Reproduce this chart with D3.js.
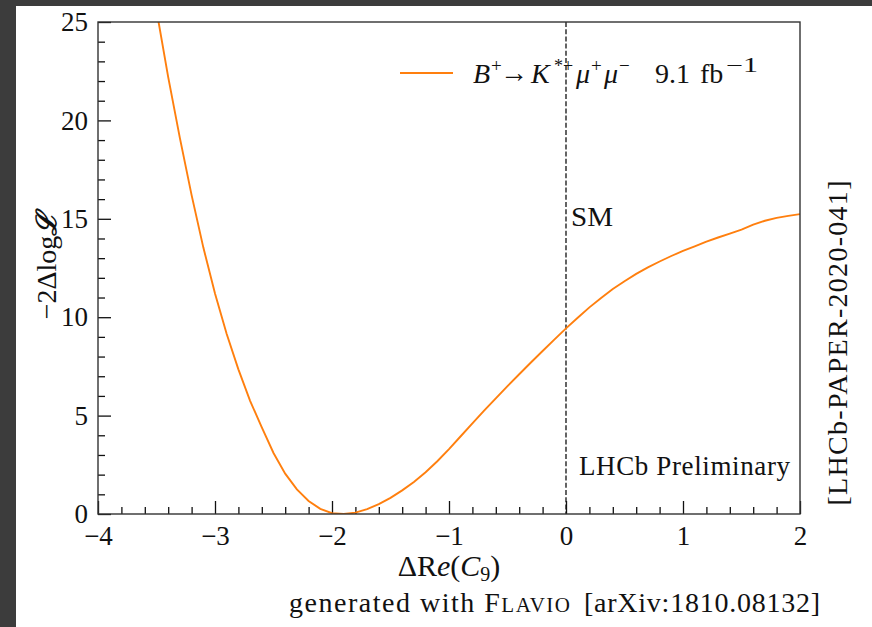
<!DOCTYPE html>
<html>
<head>
<meta charset="utf-8">
<script src="https://cdn.jsdelivr.net/npm/d3@7"></script>
<style>
  html, body { margin: 0; padding: 0; background: #3c3c3c; }
  svg { display: block; }
  text { font-family: "Liberation Serif", "DejaVu Serif", serif; fill: #111; }
</style>
</head>
<body>
<svg id="chart" width="872" height="627"></svg>
<script>
// Profile likelihood scan of the C9 Wilson coefficient shift
const c9Shift = [-3.5, -3.4, -3.3, -3.2, -3.1, -3.0, -2.9, -2.8, -2.7, -2.6, -2.5, -2.4, -2.3, -2.2, -2.1,
  -2.0, -1.9, -1.8, -1.7, -1.6, -1.5, -1.4, -1.3, -1.2, -1.1, -1.0, -0.9, -0.8, -0.7, -0.6, -0.5,
  -0.4, -0.3, -0.2, -0.1, 0.0, 0.1, 0.2, 0.3, 0.4, 0.5, 0.6, 0.7, 0.8, 0.9, 1.0, 1.1, 1.2, 1.3,
  1.4, 1.5, 1.6, 1.7, 1.8, 1.9, 2.0];
const deltaLogL = [25.6, 22.2, 19.1, 16.2, 13.55, 11.2, 9.15, 7.35, 5.75, 4.4, 3.1, 2.05, 1.25, 0.66, 0.26,
  0.04, 0.0, 0.07, 0.25, 0.5, 0.82, 1.2, 1.63, 2.12, 2.68, 3.3, 3.95, 4.6, 5.25, 5.88, 6.5,
  7.1, 7.7, 8.28, 8.86, 9.43, 9.97, 10.5, 10.98, 11.43, 11.83, 12.2, 12.53, 12.83, 13.11, 13.37, 13.6, 13.84, 14.05,
  14.25, 14.45, 14.7, 14.9, 15.05, 15.15, 15.24];
const xTicks = [-4, -3, -2, -1, 0, 1, 2];
const yTicks = [0, 5, 10, 15, 20, 25];
const smValue = 0;

const svg = d3.select("#chart");
const W = 872, H = 627;

// white page area
svg.append("rect").attr("x", 16).attr("y", 6).attr("width", W - 16).attr("height", H - 6).attr("fill", "#fff");

const x = d3.scaleLinear().domain([-4, 2]).range([98, 800]);
const y = d3.scaleLinear().domain([0, 25]).range([514, 22]);

const orange = "#ff7f0e";

svg.append("defs").append("clipPath").attr("id", "plotclip")
  .append("rect").attr("x", x(-4)).attr("y", y(25)).attr("width", x(2) - x(-4)).attr("height", y(0) - y(25));

// minor ticks
const xMinor = d3.range(-4, 2.001, 0.2).filter(v => Math.abs(v - Math.round(v)) > 1e-6);
const yMinor = d3.range(0, 25.001, 1).filter(v => v % 5 !== 0);

const gxMinor = svg.append("g").attr("transform", `translate(0,${y(0)})`)
  .call(d3.axisBottom(x).tickValues(xMinor).tickSize(-7).tickFormat(""));
const gyMinor = svg.append("g").attr("transform", `translate(${x(-4)},0)`)
  .call(d3.axisLeft(y).tickValues(yMinor).tickSize(-7).tickFormat(""));

const gx = svg.append("g").attr("transform", `translate(0,${y(0)})`)
  .call(d3.axisBottom(x).tickValues(xTicks).tickSize(-13).tickPadding(12).tickFormat(d3.format("d")));
const gy = svg.append("g").attr("transform", `translate(${x(-4)},0)`)
  .call(d3.axisLeft(y).tickValues(yTicks).tickSize(-13).tickPadding(10).tickFormat(d3.format("d")));

[gxMinor, gyMinor, gx, gy].forEach(g => {
  g.select(".domain").remove();
  g.selectAll("line").attr("stroke", "#111").attr("stroke-width", 1.3);
});
[gx, gy].forEach(g => g.selectAll("text").attr("font-size", 27).attr("font-family", "Liberation Serif, serif").attr("fill", "#222"));

// SM reference line
svg.append("line")
  .attr("x1", x(smValue)).attr("x2", x(smValue)).attr("y1", y(25)).attr("y2", y(0))
  .attr("stroke", "#111").attr("stroke-width", 1.3).attr("stroke-dasharray", "5,2.2");

// likelihood curve
const pts = c9Shift.map((v, i) => [v, deltaLogL[i]]);
svg.append("path").datum(pts)
  .attr("clip-path", "url(#plotclip)")
  .attr("fill", "none").attr("stroke", orange).attr("stroke-width", 1.9)
  .attr("d", d3.line().x(d => x(d[0])).y(d => y(d[1])));

// frame
svg.append("rect")
  .attr("x", x(-4)).attr("y", y(25)).attr("width", x(2) - x(-4)).attr("height", y(0) - y(25))
  .attr("fill", "none").attr("stroke", "#333").attr("stroke-width", 1.4);

// legend
svg.append("line").attr("x1", 400).attr("x2", 453).attr("y1", 73).attr("y2", 73)
  .attr("stroke", orange).attr("stroke-width", 1.9);
const legY = 83, supY = 72;
const legParts = [
  { t: "B", x: 473, y: legY, size: 28, italic: true },
  { t: "+", x: 491, y: supY, size: 19 },
  { t: "→", x: 500, y: legY - 1, size: 28, len: 28, font: "DejaVu Sans" },
  { t: "K", x: 531, y: legY, size: 28, italic: true },
  { t: "*+", x: 554, y: supY, size: 18 },
  { t: "μ", x: 576, y: legY, size: 28, italic: true },
  { t: "+", x: 591, y: supY, size: 19 },
  { t: "μ", x: 604, y: legY, size: 28, italic: true },
  { t: "−", x: 619, y: supY, size: 19 },
  { t: "9.1", x: 655, y: legY, size: 28 },
  { t: "fb", x: 700, y: legY, size: 28 },
  { t: "−1", x: 726, y: supY, size: 20, len: 32 }
];
svg.append("g").selectAll("text").data(legParts).join("text")
  .attr("x", d => d.x).attr("y", d => d.y).attr("font-size", d => d.size)
  .attr("font-style", d => d.italic ? "italic" : null)
  .attr("font-family", d => d.font || null)
  .attr("textLength", d => d.len || null)
  .attr("lengthAdjust", d => d.len ? "spacingAndGlyphs" : null)
  .text(d => d.t);

// annotations
svg.append("text").attr("x", x(smValue) + 5).attr("y", 226).attr("font-size", 27)
  .attr("textLength", 42).attr("lengthAdjust", "spacingAndGlyphs").text("SM");
svg.append("text").attr("x", 579).attr("y", 475).attr("font-size", 27)
  .attr("textLength", 211).text("LHCb Preliminary");

// axis titles
const yl = svg.append("text").attr("transform", "translate(56,266) rotate(-90)")
  .attr("text-anchor", "middle").attr("font-size", 28);
yl.append("tspan").text("−2Δlog");
yl.append("tspan").attr("font-style", "italic").attr("font-weight", "bold").text("ℒ");

const xl = svg.append("text").attr("x", 449).attr("y", 576).attr("text-anchor", "middle").attr("font-size", 30);
xl.append("tspan").text("ΔR");
xl.append("tspan").attr("font-style", "italic").text("e");
xl.append("tspan").text("(");
xl.append("tspan").attr("font-style", "italic").text("C");
xl.append("tspan").attr("font-size", 20).attr("dy", 5).text("9");
xl.append("tspan").attr("dy", -5).text(")");

// side label
svg.append("text").attr("transform", "translate(847,343) rotate(-90)")
  .attr("text-anchor", "middle").attr("font-size", 28)
  .attr("textLength", 325).text("[LHCb-PAPER-2020-041]");

// credit line
const cr = svg.append("text").attr("x", 289).attr("y", 612).attr("font-size", 28)
  .attr("textLength", 281).attr("fill", "#000");
cr.append("tspan").text("generated with F");
cr.append("tspan").attr("font-size", 21).text("LAVIO");
svg.append("text").attr("x", 584).attr("y", 612).attr("font-size", 28)
  .attr("textLength", 236).attr("fill", "#000").text("[arXiv:1810.08132]");
</script>
</body>
</html>
